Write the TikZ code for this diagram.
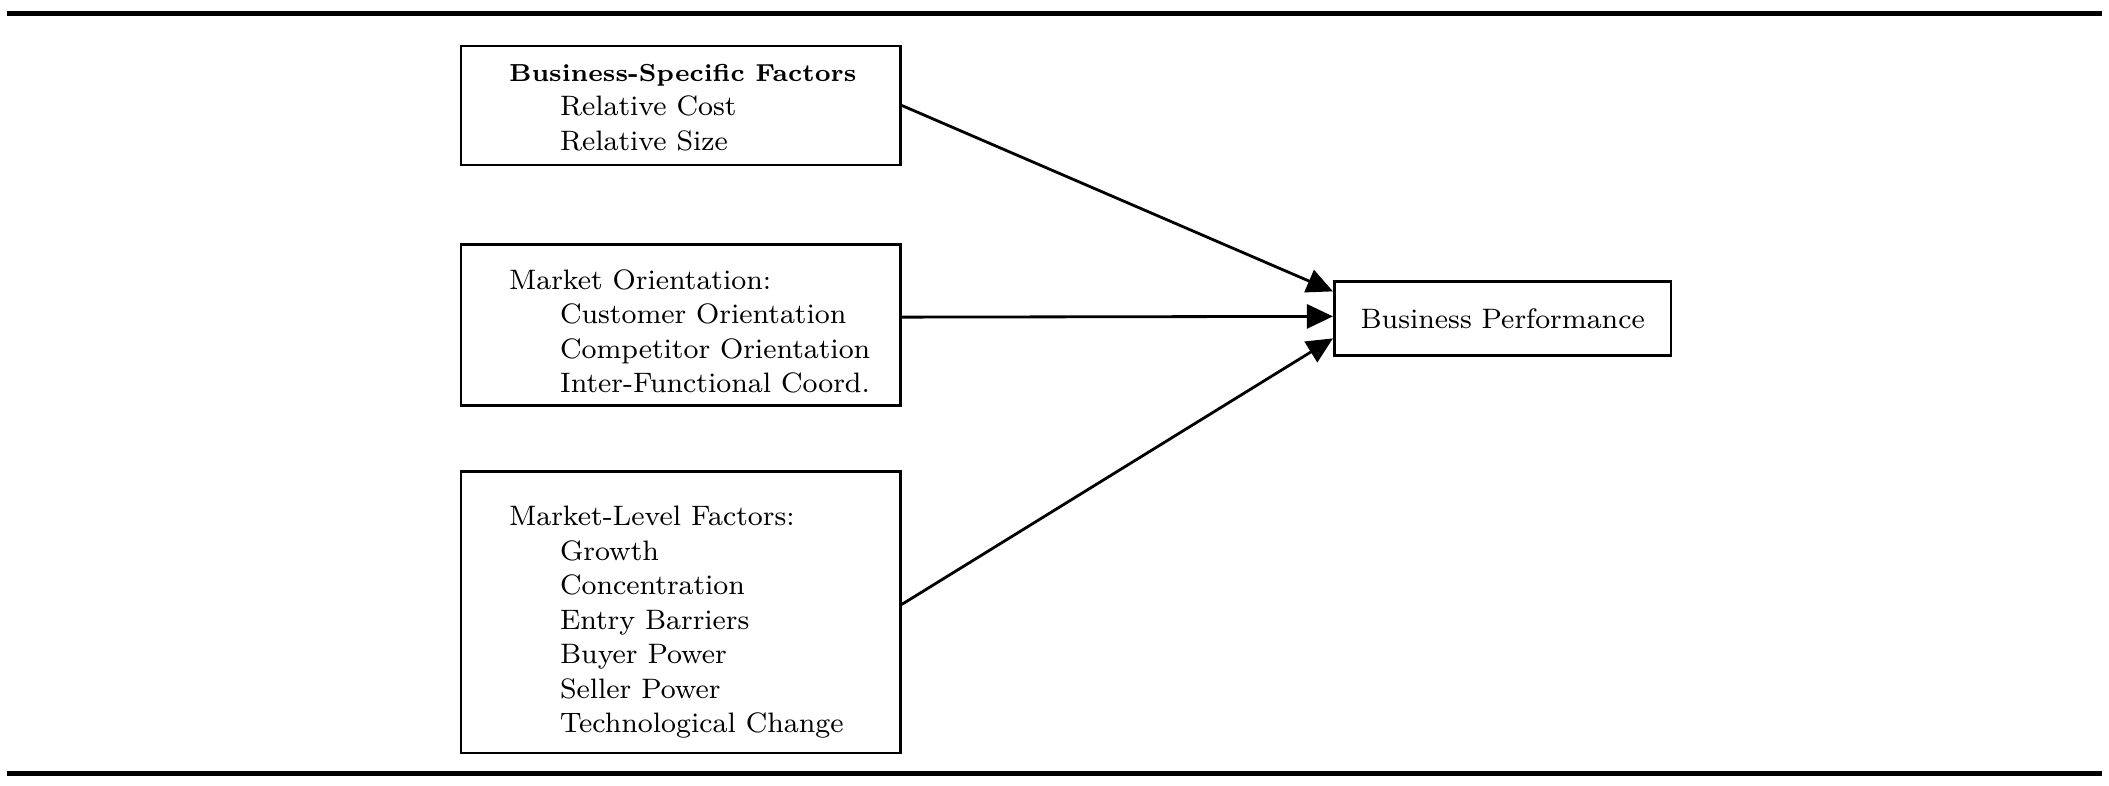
\documentclass[tikz,border=0pt]{standalone}
\usetikzlibrary{arrows.meta}
\tikzset{
  box/.style={draw=black, line width=0.8pt, minimum width=#1, inner sep=0pt},
  txt/.style={anchor=north west, inner sep=0pt, align=left, font=\fontsize{8}{9.8}\selectfont},
  arr/.style={line width=0.8pt, -{Triangle[length=0.26cm,width=0.24cm]}}
}
\newcommand{\ind}{\hspace*{0.51cm}}
\begin{document}
\begin{tikzpicture}[x=0.01352cm, y=-0.01352cm]
\useasboundingbox (0,0) rectangle (1560,581);
\draw[line width=1.4pt] (5,10) -- (1555,10);
\draw[line width=1.4pt] (5,572) -- (1555,572);

\node[box=325*0.01352cm, minimum height=88*0.01352cm] (b1) at (503.5,78) {};
\node[box=325*0.01352cm, minimum height=119*0.01352cm] (b2) at (503.5,240.5) {};
\node[box=325*0.01352cm, minimum height=208*0.01352cm] (b3) at (503.5,453) {};
\node[box=249*0.01352cm, minimum height=55*0.01352cm, font=\fontsize{8}{9.8}\selectfont] (b4) at (1111.5,235.5) {Business Performance};

\node[txt] (t1) at (376,47) {{\fontsize{7}{9.8}\selectfont\bfseries Business-Specific Factors}\\ \ind Relative Cost\\ \ind Relative Size};
\node[txt] (t2) at (376,199) {Market Orientation:\\ \ind Customer Orientation\\ \ind Competitor Orientation\\ \ind Inter-Functional Coord.};
\node[txt] (t3) at (376,374) {Market-Level Factors:\\ \ind Growth\\ \ind Concentration\\ \ind Entry Barriers\\ \ind Buyer Power\\ \ind Seller Power\\ \ind Technological Change};

\draw[arr] (b1.east) -- ([yshift=0.27cm]b4.west);
\draw[arr] ([yshift=0.08cm]b2.east) -- ([yshift=0.02cm]b4.west);
\draw[arr] ([yshift=0.08cm]b3.east) -- ([yshift=-0.2cm]b4.west);
\end{tikzpicture}
\end{document}
